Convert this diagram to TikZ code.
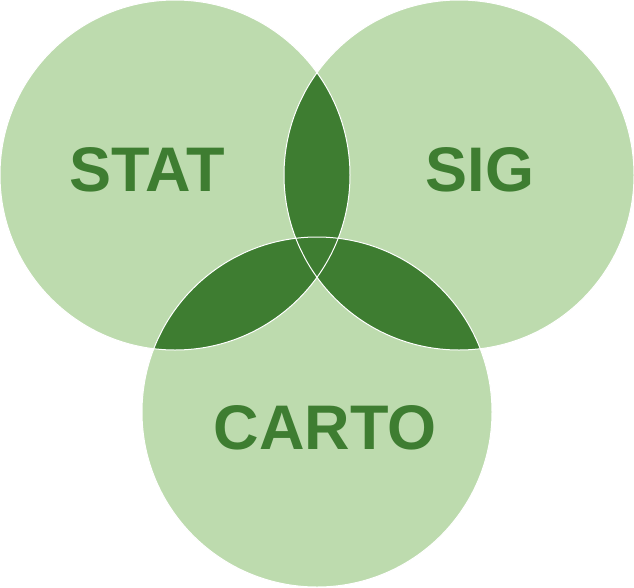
\documentclass[tikz,border=0pt]{standalone}
\usepackage{fontspec}
\setmainfont{Liberation Sans}
\definecolor{lightgreen}{HTML}{BDDBAE}
\definecolor{darkgreen}{HTML}{3E7D31}
\newcommand\circrad{175}

\begin{document}
\begin{tikzpicture}[
        x=1pt, y=-1pt,
        every node/.style={font=\fontsize{63}{63}\selectfont\bfseries},
        disc/.style={fill=lightgreen},
        overlap/.style={fill=darkgreen},
        rim/.style={draw=white, line width=1pt},
        tag/.style={text=darkgreen, inner sep=0pt}
    ]

    \useasboundingbox (0,0) rectangle (634,587);

    % Circle centres
    \coordinate (statc)  at (175,175);
    \coordinate (sigc)   at (459,175);
    \coordinate (cartoc) at (317,412);

    % Discs
    \foreach \c in {statc,sigc,cartoc}
        \fill[disc] (\c) circle[radius=\circrad];

    % Overlaps
    \begin{scope}
        \clip (statc) circle[radius=\circrad];
        \fill[overlap] (sigc) circle[radius=\circrad] (cartoc) circle[radius=\circrad];
    \end{scope}
    \begin{scope}
        \clip (sigc) circle[radius=\circrad];
        \fill[overlap] (cartoc) circle[radius=\circrad];
    \end{scope}

    % Outlines
    \foreach \c in {statc,sigc,cartoc}
        \draw[rim] (\c) circle[radius=\circrad];

    % Labels
    \node[tag] (stat)  at (147,170) {STAT};
    \node[tag] (sig)   at (480,170) {SIG};
    \node[tag] (carto) at (325,428) {CARTO};

\end{tikzpicture}
\end{document}
